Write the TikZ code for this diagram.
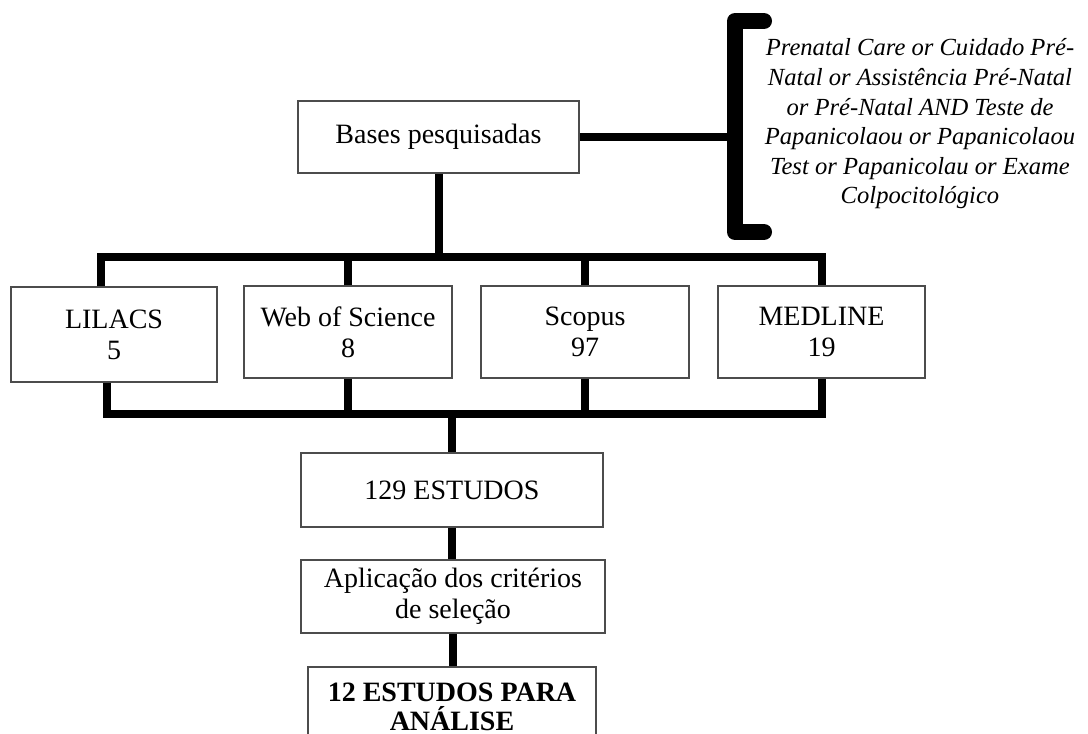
\documentclass[tikz,border=0pt]{standalone}
\usepackage{fontspec}
\setmainfont{Liberation Serif}
\usetikzlibrary{calc}
\tikzset{
  caixa/.style={draw=black!70, line width=0.75pt, fill=white, align=center,
    inner sep=0pt, font=\fontsize{14}{15.5}\selectfont},
  ligacao/.style={line width=4pt},
  termos/.style={align=center, inner sep=0pt,
    font=\fontsize{12.3}{14.8}\selectfont\itshape},
}
\begin{document}
\begin{tikzpicture}[x=0.5pt,y=-0.5pt]
\useasboundingbox (0,0) rectangle (1088,734);
\clip (0,0) rectangle (1088,734);
% Caixas
\node[caixa, minimum width=140.5pt, minimum height=36pt] (bases) at (438.5,137) {Bases pesquisadas};
\node[caixa, minimum width=103pt, minimum height=47.5pt] (lilacs) at (114,334.5) {LILACS\\5};
\node[caixa, minimum width=104pt, minimum height=46pt] (wos) at (348,332) {Web of Science\\8};
\node[caixa, minimum width=104pt, minimum height=46pt] (scopus) at (585,332) {Scopus\\97};
\node[caixa, minimum width=103.5pt, minimum height=46pt] (medline) at (821.5,332) {MEDLINE\\19};
\node[caixa, minimum width=151pt, minimum height=37pt] (estudos) at (452,490) {129 ESTUDOS};
\node[caixa, minimum width=152pt, minimum height=36.5pt] (criterios) at (453,596.5) {Aplicação dos critérios\\de seleção};
\node[caixa, minimum width=144pt, minimum height=40pt, font=\fontsize{14}{14.5}\selectfont\bfseries] (final) at (452,707) {12 ESTUDOS PARA\\ANÁLISE};
% Termos de busca
\node[termos] (busca) at (920,124) {Prenatal Care or Cuidado Pré-\\Natal or Assistência Pré-Natal\\or Pré-Natal AND Teste de\\Papanicolaou or Papanicolaou\\Test or Papanicolau or Exame\\Colpocitológico};
% Colchete
\coordinate (colchete) at (735,137);
\draw[line width=8pt, line cap=round, line join=round]
     (764,21) -- (735,21) -- (735,232) -- (764,232);
\draw[ligacao] (bases.east) -- (colchete);
% Ligacoes superiores
\coordinate (bussup) at (0,257);
\draw[ligacao] (bases.south) -- (bases.south |- bussup);
\draw[ligacao] ($(lilacs.north)+(-13,0)$) |- (medline.north |- bussup) -- (medline.north);
\draw[ligacao] (wos.north) -- (wos.north |- bussup);
\draw[ligacao] (scopus.north) -- (scopus.north |- bussup);
% Ligacoes inferiores
\coordinate (businf) at (0,414);
\draw[ligacao] ($(lilacs.south)+(-7,0)$) |- (medline.south |- businf) -- (medline.south);
\draw[ligacao] (wos.south) -- (wos.south |- businf);
\draw[ligacao] (scopus.south) -- (scopus.south |- businf);
\draw[ligacao] (estudos.north |- businf) -- (estudos.north);
% Sequencia final
\draw[ligacao] (estudos.south) -- (estudos.south |- criterios.north);
\draw[ligacao] (criterios.south) -- (criterios.south |- final.north);
\end{tikzpicture}
\end{document}
